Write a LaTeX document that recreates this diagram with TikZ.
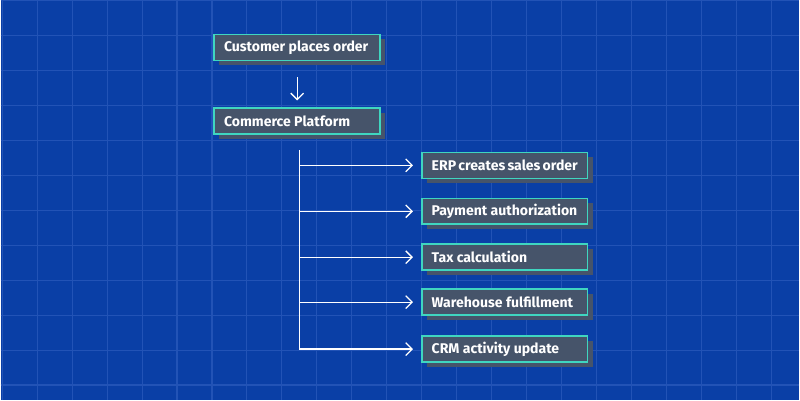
\documentclass[tikz,border=0pt]{standalone}
\usepackage{fontspec}
\setmainfont{Fira Sans}
\usetikzlibrary{arrows.meta,shadows}
\definecolor{bgblue}{HTML}{0A3FA6}
\definecolor{gridblue}{HTML}{2253B6}
\definecolor{slate}{HTML}{46546A}
\definecolor{teal}{HTML}{3FD6C0}
\tikzset{
  step box/.style={draw=teal, line width=1.1pt, fill=slate, text=white, anchor=west,
    font=\bfseries\fontsize{10}{11}\selectfont, minimum height=0.65cm, inner xsep=0.25cm,
    execute at begin node={\hbox to 3.65cm\bgroup}, execute at end node={\hfil\egroup},
    general shadow={fill=slate, shadow xshift=0.13cm, shadow yshift=-0.12cm}},
  flow/.style={white, line width=0.9pt, -{Straight Barb[length=1.6mm,width=3.2mm]}}
}
\begin{document}
\begin{tikzpicture}[x=0.025cm,y=-0.025cm]
        \fill[bgblue] (0,0) rectangle (800,400);
        \foreach \gx in {1.7,36.7,...,800} {\draw[gridblue,line width=0.8pt] (\gx,0) -- (\gx,400);}
        \foreach \gy in {0,35,...,400} {\draw[gridblue,line width=0.8pt] (0,\gy) -- (800,\gy);}

        \node[step box] (order) at (213,47) {Customer places order};
        \node[step box] (platform) at (213,120.5) {Commerce Platform};
        \coordinate (arrtop) at (297,77);
        \coordinate (arrbot) at (297,100);
        \draw[flow] (arrtop) -- (arrbot);

        \node[step box] (erp) at (421,165) {ERP creates sales order};
        \node[step box] (pay) at (421,211) {Payment authorization};
        \node[step box] (tax) at (421,257) {Tax calculation};
        \node[step box] (ware) at (421,302) {Warehouse fulfillment};
        \node[step box] (crm) at (421,349) {CRM activity update};

        \coordinate (trunk) at (299,150);
        \draw[white, line width=0.9pt] (trunk) -- (299,350);
        \foreach \n in {erp,pay,tax,ware,crm}
            \draw[flow] (\n.west -| trunk) -- ([xshift=-0.2cm]\n.west);
\end{tikzpicture}
\end{document}
